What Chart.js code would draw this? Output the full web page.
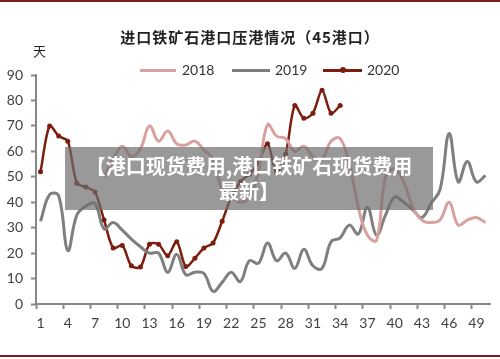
<!DOCTYPE html>
<html>
<head>
<meta charset="utf-8">
<script src="https://cdn.jsdelivr.net/npm/chart.js@4/dist/chart.umd.min.js"></script>
<style>
  html, body { margin:0; padding:0; background:#fff; }
  #wrap { position:relative; width:500px; height:359px; overflow:hidden; background:#fff; }
  #c { position:absolute; left:0; top:0; }
  .topline { position:absolute; left:0; top:0; width:500px; height:2px; background:#7a1f1f; }
  .botline { position:absolute; left:0; top:355px; width:500px; height:2px; background:#7a1f1f; }
  .title { position:absolute; left:0; width:500px; top:27px; text-align:center; font-family:"Noto Sans CJK SC"; font-weight:bold; font-size:15px; letter-spacing:1px; color:#222; line-height:20px; }
  .unit { position:absolute; left:33px; top:43px; font-family:"Noto Sans CJK SC"; font-size:13px; color:#222; line-height:16px; }
  .lg { position:absolute; font-family:Lato, "Open Sans", sans-serif; font-size:14px; color:#333; line-height:16px; top:62px; }
  .ln { position:absolute; height:3px; top:69px; }
  .dot { position:absolute; width:6px; height:6px; border-radius:50%; background:#7b1e0e; top:67px; }
  .wm { position:absolute; left:65px; top:147px; width:368px; height:63px; background:rgba(110,110,110,0.7); }
  .wmt { position:absolute; left:65px; top:153px; width:368px; text-align:center; font-family:"Noto Sans CJK SC"; font-weight:bold; font-size:20px; color:#fff; line-height:25px; }
</style>
</head>
<body>
<div id="wrap">
  <canvas id="c" width="500" height="359"></canvas>
  <div class="topline"></div>
  <div class="botline"></div>
  <div class="title">进口铁矿石港口压港情况（45港口）</div>
  <div class="unit">天</div>
  <div class="ln" style="left:140px;width:36px;background:#d9a0a0;"></div>
  <div class="lg" style="left:182px;">2018</div>
  <div class="ln" style="left:232px;width:38px;background:#7f7f7f;"></div>
  <div class="lg" style="left:275px;">2019</div>
  <div class="ln" style="left:323px;width:39px;background:#7b1e0e;"></div>
  <div class="dot" style="left:340px;"></div>
  <div class="lg" style="left:367px;">2020</div>
  <div class="wm"></div>
  <div class="wmt">【港口现货费用,港口铁矿石现货费用<br>最新】</div>
</div>
<script>
const categories = [1,2,3,4,5,6,7,8,9,10,11,12,13,14,15,16,17,18,19,20,21,22,23,24,25,26,27,28,29,30,31,32,33,34,35,36,37,38,39,40,41,42,43,44,45,46,47,48,49,50];

const series2018 = [null,null,null,null,null,null,null,50,57,62,58,61,70,64,68,63,62.5,64,60.5,57,45,42,40,42,52,70.5,66,65,60,62,58,57,64,65,55,38,27,25,50,53,48,38,33,32,33,40,31,33,34,32];

const series2019 = [32.5,43,42.5,21,35,38.5,39.5,29.5,32,29,25.5,22.5,20,20,12.5,19.5,11.5,12.5,12,5,8.5,12.5,8.8,17,16,24,17,20,14,21.5,15,14,24.5,26,31,27.5,38,27,35,42,40,37,34,39.5,45,67,48,56,48,50.5];

const series2020 = [52,70,66,64,47.5,46,44,33,22,23,15,14.5,23.5,23.5,19,24.5,14.7,18,22,24,32.5,42,48,51,55.5,63,51.5,59,78,73,75,84,75,78];

const yTicks = [0,10,20,30,40,50,60,70,80,90];

new Chart(document.getElementById('c'), {
  type: 'line',
  data: {
    labels: categories.map(String),
    datasets: [
      { label:'2018', data: series2018, borderColor:'#d9a0a0', borderWidth:3, pointRadius:0, tension:0.4, spanGaps:false },
      { label:'2019', data: series2019, borderColor:'#7f7f7f', borderWidth:3, pointRadius:0, tension:0.4 },
      { label:'2020', data: series2020, borderColor:'#7b1e0e', backgroundColor:'#7b1e0e', borderWidth:2.5, pointRadius:2.5, pointBorderWidth:0, tension:0.3 }
    ]
  },
  options: {
    responsive:false,
    animation:false,
    devicePixelRatio:1,
    layout: { padding: { top:75, right:10, bottom:0, left:0 } },
    plugins: { legend:{display:false}, title:{display:false}, tooltip:{enabled:false} },
    scales: {
      x: {
        type:'category',
        offset:true,
        afterFit: s => { s.height = 55; },
        grid: {
          offset:true, drawOnChartArea:false, drawTicks:true, tickLength:5, tickWidth:2,
          tickColor: ctx => (ctx.index % 3 === 0 ? '#888' : 'rgba(0,0,0,0)')
        },
        border: { display:true, color:'#888', width:2 },
        ticks: {
          autoSkip:false, maxRotation:0, padding:6, color:'#404040',
          font:{ family:'Lato', size:14 },
          callback: function(v, i) { return i % 3 === 0 ? categories[i] : ''; }
        }
      },
      y: {
        min:0, max:90,
        afterFit: s => { s.width = 36; },
        afterBuildTicks: s => { s.ticks = yTicks.map(v => ({ value:v })); },
        grid: { drawOnChartArea:false, drawTicks:true, tickLength:5, tickWidth:2, tickColor:'#888' },
        border: { display:true, color:'#888', width:2 },
        ticks: { padding:8, color:'#404040', font:{ family:'Lato', size:14 } }
      }
    }
  }
});
</script>
</body>
</html>
